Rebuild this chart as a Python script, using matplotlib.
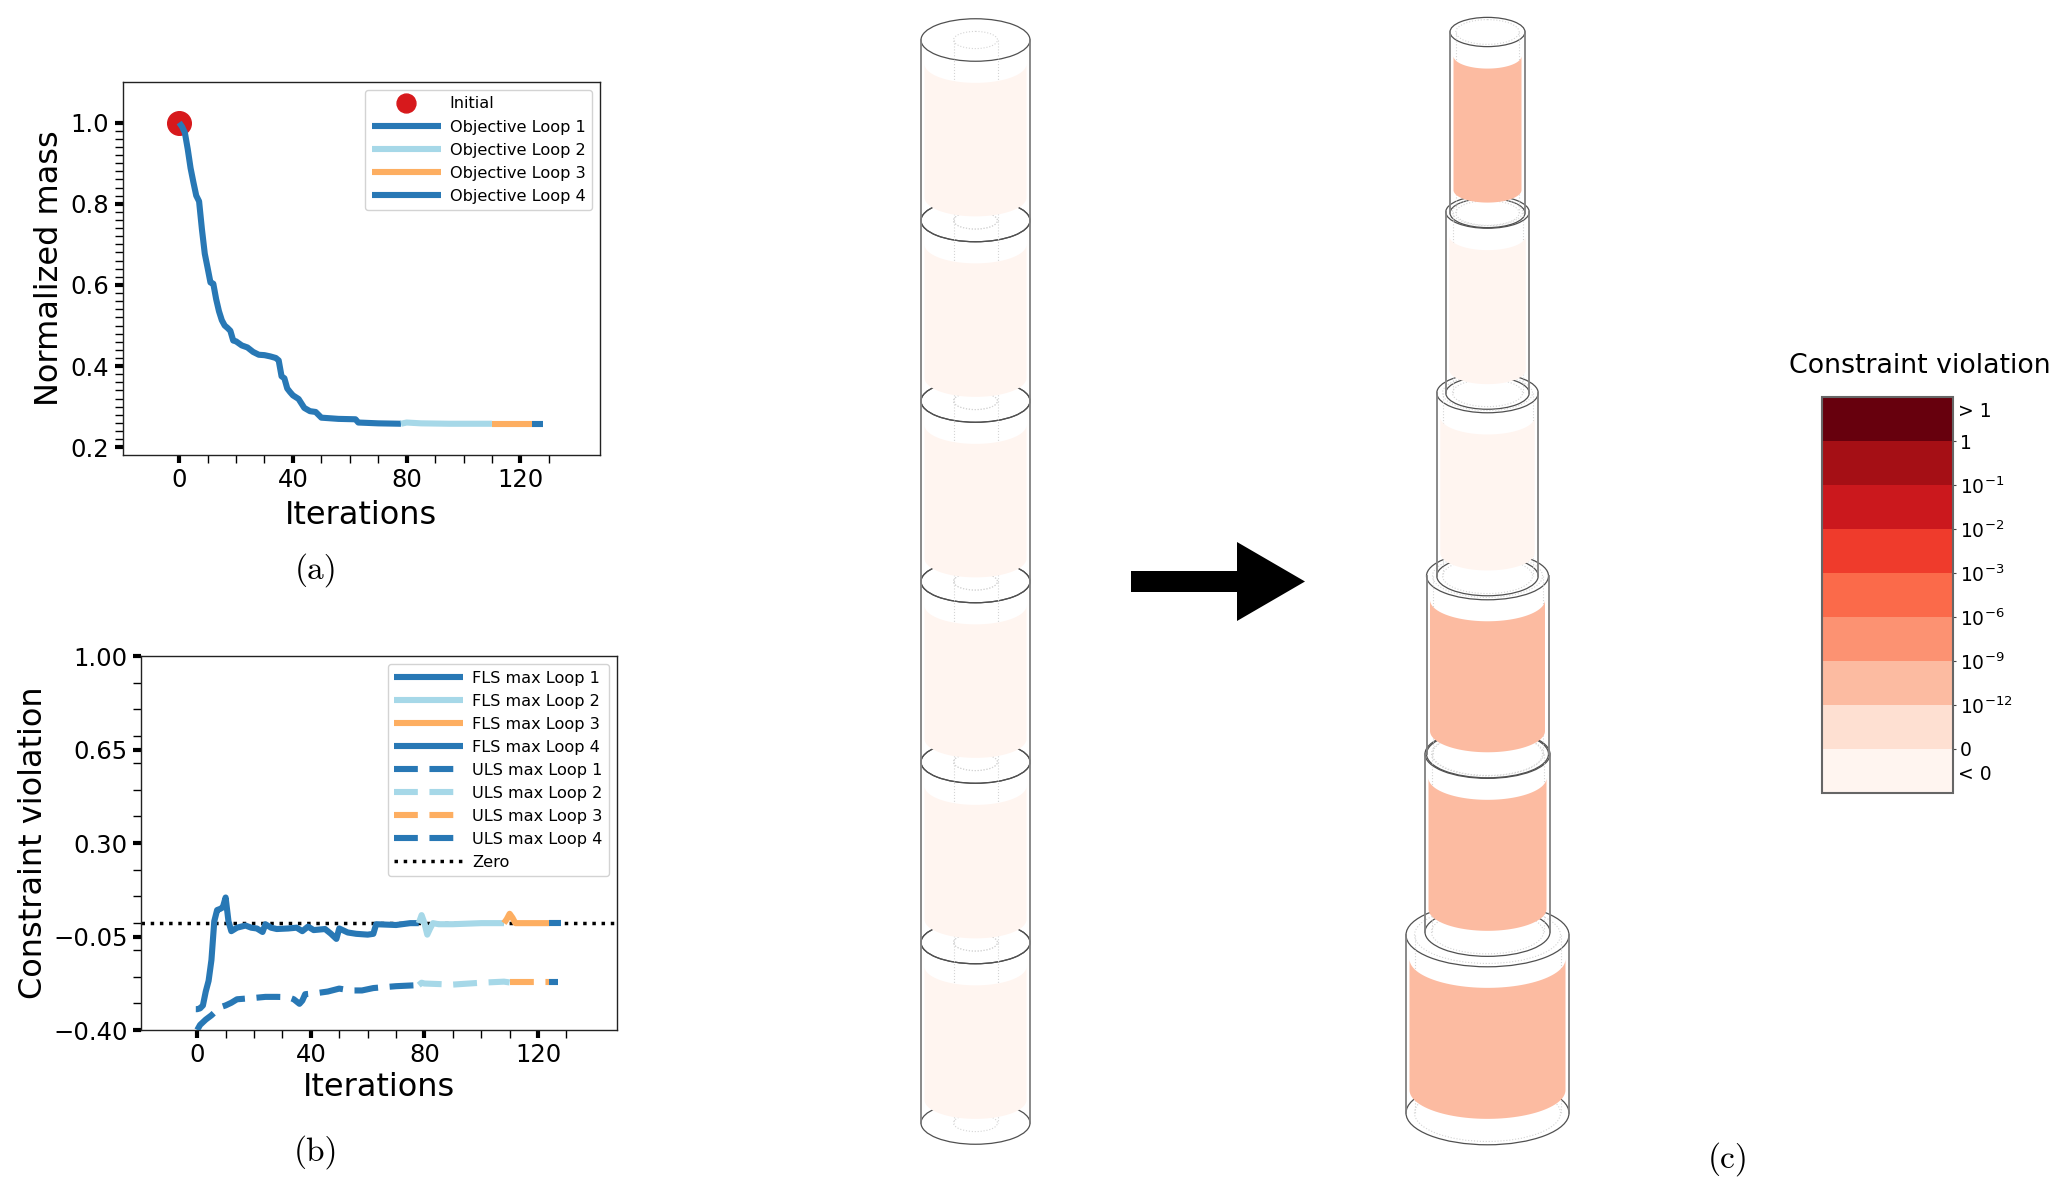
import matplotlib
matplotlib.use('Agg')
import matplotlib.pyplot as plt
import numpy as np
from matplotlib.cm import ScalarMappable
from matplotlib.colors import BoundaryNorm, ListedColormap
from matplotlib.patches import Ellipse, Polygon
from matplotlib.ticker import MultipleLocator

W, H = 2067, 1195

# objective history
obj_x1 = [0, 1, 2, 3, 4, 5, 6, 7, 8, 9, 10, 11, 12, 13, 14, 15, 16, 17, 18, 19, 20, 22, 24, 26, 28, 30, 32, 34, 35,
          36, 37, 38, 39, 40, 42, 44, 46, 48, 50, 52, 56, 62, 63, 70, 78]
obj_y1 = [1.0, .99, .975, .935, .888, .853, .82, .806, .737, .677, .642, .606, .603, .565, .535, .513, .50, .494,
          .487, .463, .461, .451, .446, .435, .428, .427, .424, .42, .414, .375, .37, .345, .336, .328, .319, .297,
          .289, .287, .273, .272, .27, .269, .261, .259, .258]
obj_x2 = [78, 80, 85, 95, 110]
obj_y2 = [.258, .261, .259, .258, .258]
obj_x3 = [110, 124]
obj_y3 = [.258, .258]
obj_x4 = [124, 128]
obj_y4 = [.258, .258]

# constraint history
fls_x1 = [-.5, 0, 1, 2, 3, 4, 5, 6, 7, 8, 9, 10, 11, 12, 14, 17, 19, 21, 23, 24, 26, 28, 32, 35, 37, 39, 41, 45, 47,
          49, 50, 53, 56, 60, 62, 63, 70, 75, 78]
fls_y1 = [-.322, -.322, -.319, -.308, -.256, -.216, -.138, .007, .049, .053, .059, .096, .007, -.03, -.017, -.009,
          -.017, -.02, -.033, -.004, -.017, -.022, -.02, -.017, -.03, -.013, -.026, -.022, -.039, -.059, -.02,
          -.035, -.04, -.043, -.04, -.004, -.007, 0, 0]
fls_x2 = [78, 79, 80, 81, 82, 83, 85, 90, 100, 108]
fls_y2 = [0, .03, 0, -.043, -.02, 0, -.004, -.004, 0, 0]
fls_x3 = [108, 109, 110, 111, 112, 124]
fls_y3 = [0, .015, .035, .02, 0, 0]
fls_x4 = [124, 128]
fls_y4 = [0, 0]

uls_x1 = [0, 1, 3, 5, 8, 10, 12, 14, 20, 24, 28, 32, 34, 36, 37, 38, 42, 46, 50, 54, 58, 62, 70, 78]
uls_y1 = [-.40, -.381, -.361, -.345, -.315, -.308, -.298, -.285, -.28, -.276, -.276, -.277, -.285, -.302, -.29,
          -.266, -.262, -.256, -.245, -.252, -.252, -.243, -.236, -.232]
uls_x2 = [78, 79, 80, 90, 100, 108, 110]
uls_y2 = [-.232, -.223, -.226, -.23, -.223, -.219, -.222]
uls_x3 = [110, 124]
uls_y3 = [-.222, -.222]
uls_x4 = [124, 127]
uls_y4 = [-.222, -.222]

loop_colors = ['#2878b5', '#a6d8e8', '#fdae61', '#2878b5']

# towers: level is the index in the colour bar of each segment, top segment first
seam_y_left = [40, 220.5, 401, 581.5, 762, 942.5, 1123]
radius_left = [54.5, 54.5, 54.5, 54.5, 54.5, 54.5]
inner_left = [22, 22, 22, 22, 22, 22]
level_left = [0, 0, 0, 0, 0, 0]

seam_top_right = [32, 212, 393, 576, 754, 935]
seam_bot_right = [213, 393, 576, 754, 932, 1113]
radius_right = [37.5, 41.7, 50.7, 61, 62.5, 81.5]
inner_right = [31.7, 35, 45, 55, 56, 73]
level_right = [2, 0, 0, 2, 2, 2]

cbar_colors = ['#fff5f0', '#fee0d2', '#fcbba1', '#fc9272', '#fb6a4a', '#ef3b2c', '#cb181d', '#a50f15', '#67000d']
cbar_labels = ['0', r'$10^{-12}$', r'$10^{-9}$', r'$10^{-6}$', r'$10^{-3}$', r'$10^{-2}$', r'$10^{-1}$', '1']

plt.rc('font', size=17)
plt.rc('axes', labelsize=23, linewidth=1.0, edgecolor='#222222')
plt.rc('xtick', labelsize=17.5)
plt.rc('ytick', labelsize=17.5)
plt.rc('legend', fontsize=11.6)

fig = plt.figure(figsize=(W / 100, H / 100), dpi=100)


def px_axes(left, top, right, bottom, **kw):
    return fig.add_axes([left / W, 1 - bottom / H, (right - left) / W, (bottom - top) / H], **kw)


def style_ticks(ax):
    ax.xaxis.set_major_locator(MultipleLocator(40))
    ax.set_xticks(np.arange(0, 131, 10), minor=True)
    ax.tick_params(which='major', length=6, width=3)
    ax.tick_params(which='minor', length=6, width=1)


def leg_opts():
    return dict(loc='upper right', handlelength=4.3, handletextpad=0.55, framealpha=0.85)


####################################### mass ################################################
ax = px_axes(122.6, 82, 600, 455)
ax.plot(0, 1.0, 'o', color='#d7191c', ms=17, label='Initial', zorder=2)
for i, (x, y) in enumerate([(obj_x1, obj_y1), (obj_x2, obj_y2), (obj_x3, obj_y3), (obj_x4, obj_y4)]):
    ax.plot(x, y, color=loop_colors[i], lw=4.4, label='Objective Loop %d' % (i + 1), solid_capstyle='butt', zorder=3)
ax.set_xlim(-19.9, 148)
ax.set_ylim(0.181, 1.10)
style_ticks(ax)
ax.set_yticks([0.2, 0.4, 0.6, 0.8, 1.0])
ax.set_yticks(np.arange(0.2, 1.001, 0.02), minor=True)
ax.set_xlabel('Iterations', labelpad=5.5)
ax.set_ylabel('Normalized mass', labelpad=4)
ax.legend(markerscale=0.8, **leg_opts())

####################################### constraints ################################################
ax = px_axes(141, 656, 617, 1030)
fls = [(fls_x1, fls_y1), (fls_x2, fls_y2), (fls_x3, fls_y3), (fls_x4, fls_y4)]
uls = [(uls_x1, uls_y1), (uls_x2, uls_y2), (uls_x3, uls_y3), (uls_x4, uls_y4)]
for i, (x, y) in enumerate(fls):
    ax.plot(x, y, color=loop_colors[i], lw=4.4, label='FLS max Loop %d' % (i + 1), solid_capstyle='butt', zorder=3)
for i, (x, y) in enumerate(uls):
    ax.plot(x, y, color=loop_colors[i], lw=4.4, dashes=(3.9, 1.9), label='ULS max Loop %d' % (i + 1), zorder=3)
ax.axhline(0, color='black', ls=':', lw=2.5, label='Zero')
ax.set_xlim(-19.8, 147.8)
ax.set_ylim(-0.40, 1.00)
style_ticks(ax)
ax.set_yticks([-0.40, -0.05, 0.30, 0.65, 1.00])
ax.yaxis.set_major_formatter(plt.FuncFormatter(lambda v, p: ('%.2f' % v).replace('-', '\u2212')))
ax.yaxis.set_minor_locator(MultipleLocator(0.1))
ax.set_xlabel('Iterations', labelpad=3.6)
ax.set_ylabel('Constraint violation', labelpad=3)
ax.legend(**leg_opts())

####################################### towers ################################################
dia = fig.add_axes([0, 0, 1, 1], zorder=-1)
dia.set_xlim(0, W)
dia.set_ylim(H, 0)
dia.axis('off')


def draw_segment(cx, y0, y1, r, r_in, color):
    # inner dotted wall goes first, the coloured band sits on top of it
    for y in (y0, y1):
        dia.add_patch(Ellipse((cx, y), 2 * r_in, 0.78 * r_in, fill=False, ec='#d4d4d4', lw=0.8, ls=':'))
    for s in (-1, 1):
        dia.plot([cx + s * r_in] * 2, [y0, y1], color='#d4d4d4', lw=0.8, ls=':')
        dia.plot([cx + s * r] * 2, [y0, y1], color='#808080', lw=1.3)
    for y in (y0, y1):
        dia.add_patch(Ellipse((cx, y), 2 * r, 0.78 * r, fill=False, ec='#505050', lw=0.9))
    rf = r - 3.5
    t = np.linspace(0, np.pi, 60)
    top = np.c_[cx + rf * np.cos(t), y0 + 24 + 0.37 * rf * np.sin(t)]
    bot = np.c_[cx + rf * np.cos(t[::-1]), y1 - 23 + 0.37 * rf * np.sin(t[::-1])]
    dia.add_patch(Polygon(np.r_[top, bot], closed=True, fc=color, ec='none', zorder=3))


for i in range(6):
    draw_segment(975.5, seam_y_left[i], seam_y_left[i + 1], radius_left[i], inner_left[i], cbar_colors[level_left[i]])
    draw_segment(1487.5, seam_top_right[i], seam_bot_right[i], radius_right[i], inner_right[i],
                 cbar_colors[level_right[i]])

# arrow between the towers
dia.add_patch(Polygon([(1131, 571), (1237, 571), (1237, 542), (1305, 581.5), (1237, 621), (1237, 592), (1131, 592)],
                      closed=True, fc='black', ec='none'))

####################################### colour bar ################################################
cax = px_axes(1822, 397, 1953, 793)
norm = BoundaryNorm(np.arange(10), 9)
cb = fig.colorbar(ScalarMappable(norm=norm, cmap=ListedColormap(cbar_colors)), cax=cax, ticks=np.arange(1, 9),
                  spacing='uniform')
cb.ax.set_yticklabels(cbar_labels)
cb.ax.tick_params(length=2, width=0.8, labelsize=13.5, pad=3, color='#444444')
cb.ax.minorticks_off()
cb.outline.set_edgecolor('#666666')
cb.outline.set_linewidth(1.5)
cb.ax.text(1.035, 8.67, '> 1', transform=cb.ax.get_yaxis_transform(), va='center', fontsize=13.5)
cb.ax.text(1.035, 0.42, '< 0', transform=cb.ax.get_yaxis_transform(), va='center', fontsize=13.5)
fig.text(1920 / W, 1 - 366 / H, 'Constraint violation', ha='center', va='center', fontsize=19.3)

####################################### sub captions ################################################
for lab, x, y in [('(a)', 316, 570), ('(b)', 316, 1152), ('(c)', 1728, 1159)]:
    fig.text(x / W, 1 - y / H, lab, ha='center', va='center', fontsize=24, family='cmr10')

plt.savefig('out.png', dpi=100)
